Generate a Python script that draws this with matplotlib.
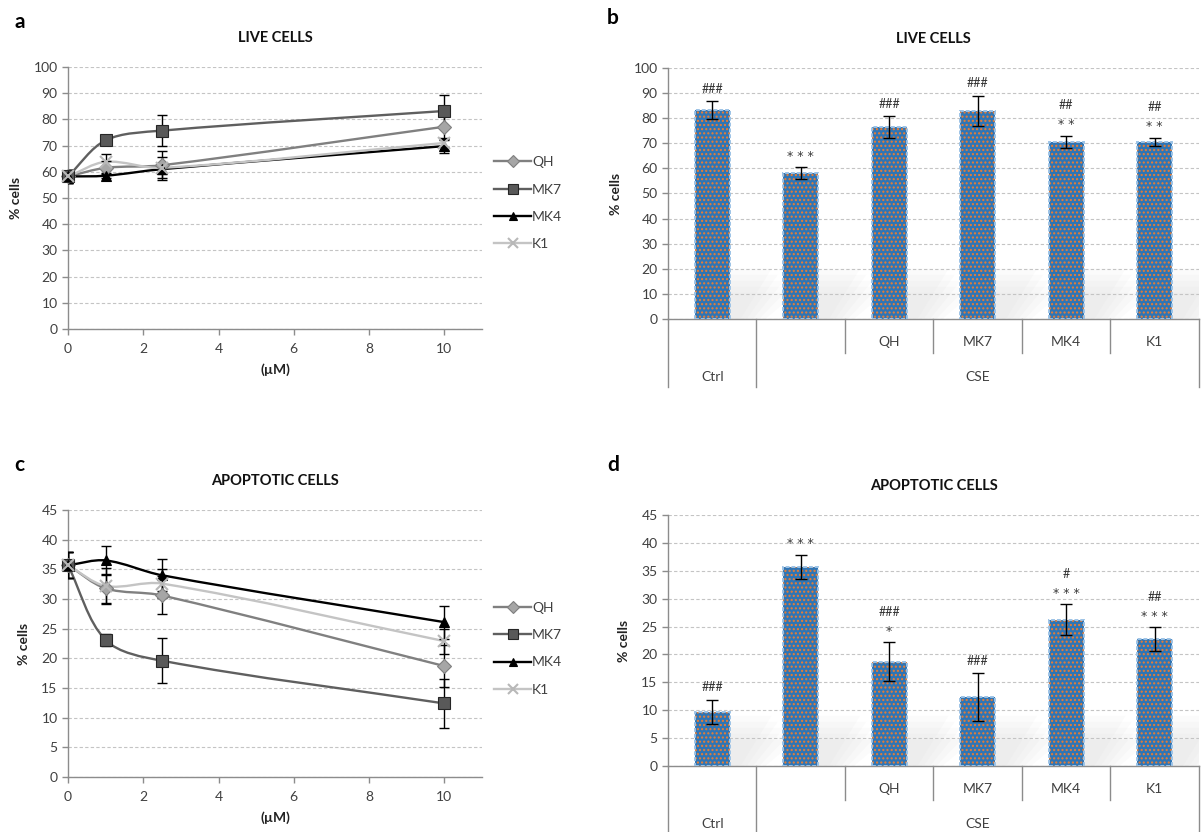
import numpy as np
import matplotlib
matplotlib.use('Agg')
import matplotlib.pyplot as plt
from matplotlib.path import Path
from matplotlib.patches import PathPatch, Polygon
from matplotlib.lines import Line2D

plt.rcParams['font.family'] = ['Lato', 'DejaVu Sans']

# dose-response data (uM)
doses = [0, 1, 2.5, 10]
compounds = ['QH', 'MK7', 'MK4', 'K1']

live_mean = {
    'QH':  [58.2, 61.5, 62.5, 77.2],
    'MK7': [58.2, 72.0, 75.7, 83.2],
    'MK4': [58.2, 58.5, 61.0, 69.8],
    'K1':  [58.2, 63.8, 61.5, 71.0],
}
live_err = {
    'QH':  [2.3, 2.5, 5.5, 4.2],
    'MK7': [2.3, 1.5, 6.0, 6.0],
    'MK4': [2.3, 1.0, 2.0, 2.5],
    'K1':  [2.3, 3.0, 4.0, 1.7],
}
apo_mean = {
    'QH':  [35.7, 31.8, 30.6, 18.7],
    'MK7': [35.7, 23.1, 19.6, 12.4],
    'MK4': [35.7, 36.5, 34.0, 26.1],
    'K1':  [35.7, 32.2, 32.6, 22.9],
}
apo_err = {
    'QH':  [2.2, 2.5, 3.2, 3.5],
    'MK7': [2.2, 1.0, 3.8, 4.2],
    'MK4': [2.2, 2.5, 2.7, 2.8],
    'K1':  [2.2, 3.0, 2.5, 2.1],
}

# bar charts: Ctrl, CSE, CSE + compound at 10 uM
groups = ['', '', 'QH', 'MK7', 'MK4', 'K1']
live_bar = [83.2, 58.2, 76.5, 83.0, 70.5, 70.5]
live_bar_err = [3.5, 2.3, 4.2, 6.0, 2.5, 1.7]
live_stars = ['', '***', '', '', '**', '**']
live_hash = ['###', '', '###', '###', '##', '##']
apo_bar = [9.7, 35.7, 18.7, 12.3, 26.2, 22.8]
apo_bar_err = [2.2, 2.2, 3.5, 4.3, 2.8, 2.1]
apo_stars = ['', '***', '*', '', '***', '***']
apo_hash = ['###', '', '###', '###', '#', '##']

styles = {
    'QH':  dict(color='#808080', marker='D', ms=7, mfc='#a6a6a6', mec='#7f7f7f', mew=0.8),
    'MK7': dict(color='#5f5f5f', marker='s', ms=8.5, mfc='#595959', mec='#262626', mew=0.8),
    'MK4': dict(color='#000000', marker='^', ms=7, mfc='#000000', mec='#000000', mew=0.8),
    'K1':  dict(color='#c4c4c4', marker='x', ms=9, mfc='#c4c4c4', mec='#b8b8b8', mew=1.5),
}

GRID = '#c4c4c4'
AXC = '#8c8c8c'
TXT = '#404040'


def smooth_path(ax, xs, ys):
    # chord-length bezier spline, built in screen space so it looks even
    pts = ax.transData.transform(np.column_stack([xs, ys]).astype(float))
    n = len(pts)
    d = np.hypot(*np.diff(pts, axis=0).T)
    tang = []
    for i in range(n):
        if i == 0:
            tang.append((pts[1] - pts[0]) / d[0])
        elif i == n - 1:
            tang.append((pts[-1] - pts[-2]) / d[-1])
        else:
            tang.append((pts[i + 1] - pts[i - 1]) / (d[i - 1] + d[i]))
    verts = [pts[0]]
    codes = [Path.MOVETO]
    for i in range(n - 1):
        verts += [pts[i] + tang[i] * d[i] / 3.0,
                  pts[i + 1] - tang[i + 1] * d[i] / 3.0,
                  pts[i + 1]]
        codes += [Path.CURVE4] * 3
    verts = ax.transData.inverted().transform(np.array(verts))
    return Path(verts, codes)


def style_axes(ax, ymax, ystep):
    ax.set_ylim(0, ymax)
    ax.set_yticks(np.arange(0, ymax + 0.1, ystep))
    ax.yaxis.grid(True, color=GRID, ls=(0, (3, 2)), lw=0.8)
    ax.set_axisbelow(True)
    for s in ['top', 'right']:
        ax.spines[s].set_visible(False)
    for s in ['left', 'bottom']:
        ax.spines[s].set_color(AXC)
        ax.spines[s].set_linewidth(1.0)
    ax.tick_params(axis='both', colors=AXC, labelcolor=TXT, labelsize=10,
                   length=4, width=1.0)
    ax.set_ylabel('% cells', fontsize=10, fontweight='bold', color='#222222',
                  labelpad=8)


def line_panel(ax, means, errs, ymax, ystep, title, letter):
    style_axes(ax, ymax, ystep)
    ax.set_xlim(0, 11)
    ax.set_xticks([0, 2, 4, 6, 8, 10])
    ax.tick_params(axis='x', pad=6)
    handles = []
    for c in compounds:
        st = styles[c]
        lw = 1.7
        ax.add_patch(PathPatch(smooth_path(ax, doses, means[c]), fill=False,
                               edgecolor=st['color'], lw=lw, zorder=3))
        ax.errorbar(doses, means[c], yerr=errs[c], fmt='none', ecolor='black',
                    elinewidth=1.0, capsize=3.5, capthick=1.0, zorder=4)
        ax.plot(doses, means[c], ls='none', marker=st['marker'], ms=st['ms'],
                mfc=st['mfc'], mec=st['mec'], mew=st['mew'],
                zorder=5, clip_on=False)
        handles.append(Line2D([], [], color=st['color'], lw=lw,
                              marker=st['marker'], ms=st['ms'] * 0.85,
                              mfc=st['mfc'], mec=st['mec'], mew=st['mew']))
    ax.legend(handles, compounds, loc='center left', bbox_to_anchor=(1.0, 0.48),
              frameon=False, handlelength=2.6, handletextpad=0.1,
              labelspacing=1.1, fontsize=10, labelcolor=TXT)
    ax.set_xlabel('(\u00b5M)', fontsize=10, fontweight='bold', color='#222222',
                  labelpad=6)
    ax.set_title(title, fontsize=10.5, fontweight='bold', color='#111111', pad=18)
    ax.text(-0.13, 1.17, letter, transform=ax.transAxes, fontsize=15,
            fontweight='bold', ha='left', va='center')


def bar_panel(ax, vals, errs, stars, hashes, ymax, ystep, title, letter, full_drop):
    style_axes(ax, ymax, ystep)
    x = np.arange(len(groups))
    ax.set_xlim(-0.5, len(groups) - 0.5)
    ax.set_xticks([])
    ax.tick_params(axis='x', length=0)

    # faint floor shadow slanting away from each bar
    h = ymax * 0.2
    for xi in x:
        for k in range(5):
            w = 0.12 + 0.07 * k
            ax.add_patch(Polygon([(xi + 0.2, 0), (xi + 0.2, h * (1 - 0.12 * k)),
                                  (xi + 0.2 + w + 0.35, h * (1 - 0.12 * k)),
                                  (xi + 0.2 + w, 0)],
                                 closed=True, color='#cfcfcf', alpha=0.08,
                                 lw=0, zorder=0.5))

    ax.bar(x, vals, width=0.4, color='#2e75b6', edgecolor='#ed7d31',
           hatch='....', lw=0, zorder=2)
    ax.bar(x, vals, width=0.4, fill=False, edgecolor='#9dc3e6',
           ls=(0, (2, 1)), lw=1.4, zorder=3)
    ax.errorbar(x, vals, yerr=errs, fmt='none', ecolor='black', elinewidth=1.0,
                capsize=4, capthick=1.0, zorder=4)

    for xi, v, e, s, hs in zip(x, vals, errs, stars, hashes):
        off = 9
        if s:
            ax.annotate(' '.join(s), (xi, v + e), xytext=(0, off - 1),
                        textcoords='offset points', ha='center', va='center',
                        fontsize=9, color='#3a3a3a', family='DejaVu Sans')
            off += 13
        if hs:
            ax.annotate(hs, (xi, v + e), xytext=(0, off), textcoords='offset points',
                        ha='center', va='center', fontsize=9, color='#333333')

    # two level category axis
    tr = ax.get_xaxis_transform()
    for b in [-0.5, 0.5, len(groups) - 0.5]:
        ax.plot([b, b], [0, -full_drop], transform=tr, color=AXC, lw=1.0,
                clip_on=False)
    for b in [1.5, 2.5, 3.5, 4.5]:
        ax.plot([b, b], [0, -0.135], transform=tr, color=AXC, lw=1.0,
                clip_on=False)
    for xi, g in zip(x, groups):
        ax.text(xi, -0.09, g, transform=tr, ha='center', va='center',
                fontsize=10, color=TXT)
    ax.text(0, -0.23, 'Ctrl', transform=tr, ha='center', va='center',
            fontsize=10, color=TXT)
    ax.text(3, -0.23, 'CSE', transform=tr, ha='center', va='center',
            fontsize=10, color=TXT)

    ax.set_title(title, fontsize=10.5, fontweight='bold', color='#111111', pad=18)
    ax.text(-0.115, 1.2, letter, transform=ax.transAxes, fontsize=15,
            fontweight='bold', ha='left', va='center')


fig = plt.figure(figsize=(12.01, 8.32), dpi=100)
ax_a = fig.add_axes([0.0566, 0.6046, 0.3447, 0.3149])
ax_b = fig.add_axes([0.5562, 0.6166, 0.4421, 0.3017])
ax_c = fig.add_axes([0.0566, 0.0661, 0.3447, 0.3209])
ax_d = fig.add_axes([0.5562, 0.0793, 0.4421, 0.3017])

line_panel(ax_a, live_mean, live_err, 100, 10, 'LIVE CELLS', 'a')
bar_panel(ax_b, live_bar, live_bar_err, live_stars, live_hash, 100, 10,
          'LIVE CELLS', 'b', 0.271)
line_panel(ax_c, apo_mean, apo_err, 45, 5, 'APOPTOTIC CELLS', 'c')
bar_panel(ax_d, apo_bar, apo_bar_err, apo_stars, apo_hash, 45, 5,
          'APOPTOTIC CELLS', 'd', 0.3)

fig.savefig('out.png', dpi=100)
